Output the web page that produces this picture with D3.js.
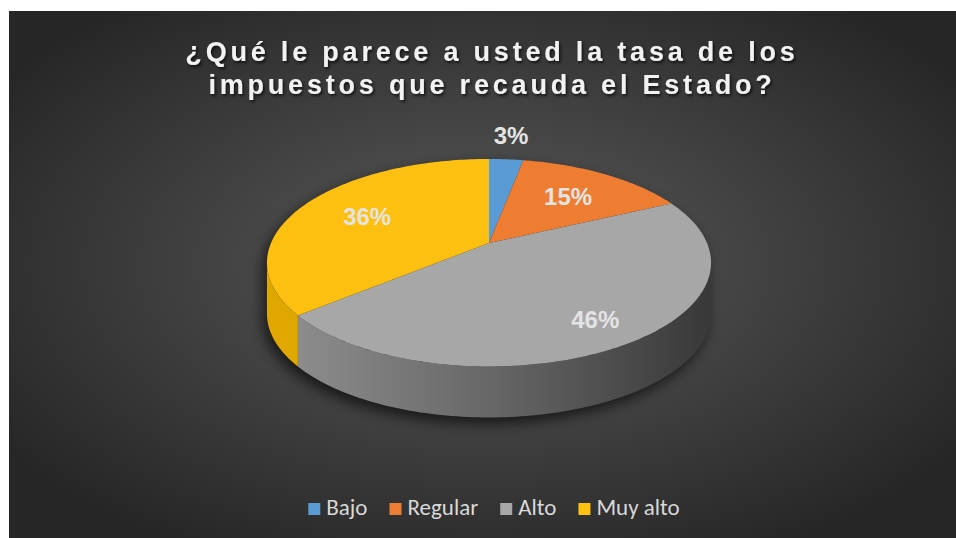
<!DOCTYPE html>
<html>
<head>
<meta charset="utf-8">
<script src="https://cdn.jsdelivr.net/npm/d3@7"></script>
<style>
	body { margin: 0; background: #ffffff; }
	.title { font-family: "Liberation Sans", Arial, sans-serif; font-weight: bold; font-size: 27px; fill: #f2f2f2; }
	.labels { font-family: "Liberation Sans", Arial, sans-serif; font-weight: bold; font-size: 24px; fill: #e4e4e4; }
	.legendText { font-family: Carlito, Calibri, Lato, sans-serif; font-size: 23px; fill: #d9d9d9; }
</style>
</head>
<body>
<script>
//Chart data
let categories = ["Bajo", "Regular", "Alto", "Muy alto"];
let values = [3, 15, 46, 36];
let titleLines = ["¿Qué le parece a usted la tasa de los", "impuestos que recauda el Estado?"];

//Execute script when window is loaded
window.onload = function(){
	//SVG dimension variables
	let w = 956, h = 538;

	//Colors for the top faces and the sides
	let topColors = ["#5b9bd5", "#ee7d31", "#a7a7a7", "#fdc010"];
	let sideColors = ["#3f78ad", "#c0601e", "url(#sideGray)", "#dfa700"];

	//Container block
	let container = d3.select("body")
		.append("svg")
		.attr("width", w)
		.attr("height", h)
		.attr("class", "container");

	let defs = container.append("defs");

	//Dark radial background
	let bg = defs.append("radialGradient")
		.attr("id", "bgGrad")
		.attr("cx", "50%").attr("cy", "48%").attr("r", "62%");
	bg.append("stop").attr("offset", "0%").attr("stop-color", "#5b5b5b");
	bg.append("stop").attr("offset", "100%").attr("stop-color", "#262626");

	//Gray side gradient, light on the left
	let sg = defs.append("linearGradient")
		.attr("id", "sideGray")
		.attr("gradientUnits", "userSpaceOnUse")
		.attr("x1", 267).attr("x2", 712).attr("y1", 0).attr("y2", 0);
	sg.append("stop").attr("offset", "0%").attr("stop-color", "#929292");
	sg.append("stop").attr("offset", "50%").attr("stop-color", "#676767");
	sg.append("stop").attr("offset", "100%").attr("stop-color", "#383838");

	//Title shadow and pie shadow filters
	let ts = defs.append("filter").attr("id", "textShadow")
		.attr("x", "-10%").attr("y", "-30%").attr("width", "120%").attr("height", "160%");
	ts.append("feDropShadow").attr("dx", 1.5).attr("dy", 2).attr("stdDeviation", 1.5)
		.attr("flood-color", "#000").attr("flood-opacity", 0.7);

	let ps = defs.append("filter").attr("id", "pieShadow")
		.attr("x", "-20%").attr("y", "-20%").attr("width", "140%").attr("height", "140%");
	ps.append("feGaussianBlur").attr("stdDeviation", 7);

	//Background rect (white margin on top and left)
	container.append("rect")
		.attr("x", 9).attr("y", 11)
		.attr("width", w - 9).attr("height", h - 11)
		.style("fill", "url(#bgGrad)");

	//Title
	let title = container.append("text")
		.attr("class", "title")
		.attr("text-anchor", "middle")
		.attr("filter", "url(#textShadow)")
		.style("letter-spacing", "3.8px");
	title.selectAll("tspan")
		.data(titleLines)
		.enter()
		.append("tspan")
		.attr("x", 492)
		.attr("y", function(d, i){ return 61 + i * 33; })
		.text(function(d){ return d; });

	//Pie geometry (projected tilted circle with a bit of perspective)
	let cx = 489, cy = 243, RX = 218, RY = 100, P = 0.19, depth = 51;

	function project(theta, r){
		let c = Math.cos(theta), s = Math.sin(theta);
		let den = 1 + P * r * c;
		return [cx + RX * r * s / den, cy - RY * r * c / den];
	}

	//Angles where the rim turns from back to front
	let thetaR = Math.PI / 2 + Math.asin(P);
	let thetaL = 3 * Math.PI / 2 - Math.asin(P);

	let line = d3.line();

	function arcPoints(a0, a1, dy){
		let n = Math.max(2, Math.ceil(Math.abs(a1 - a0) / 0.02));
		return d3.range(n + 1).map(function(k){
			let p = project(a0 + (a1 - a0) * k / n, 1);
			return [p[0], p[1] + dy];
		});
	}

	let pie = d3.pie().sort(null).value(function(d){ return d; });
	let arcs = pie(values);

	//Soft shadow under the pie
	let shadowPts = arcPoints(thetaL, thetaR + 2 * Math.PI, 0)
		.concat(arcPoints(thetaR, thetaL, depth));
	container.append("path")
		.attr("d", line(shadowPts) + "Z")
		.attr("transform", "translate(-4, 6)")
		.attr("filter", "url(#pieShadow)")
		.style("fill", "#000")
		.style("opacity", 0.65);

	//Side walls for the front half
	container.selectAll(".side")
		.data(arcs)
		.enter()
		.append("path")
		.attr("class", "side")
		.attr("d", function(d){
			let a0 = Math.max(d.startAngle, thetaR);
			let a1 = Math.min(d.endAngle, thetaL);
			if (a1 <= a0) return null;
			let pts = arcPoints(a0, a1, 0).concat(arcPoints(a1, a0, depth));
			return line(pts) + "Z";
		})
		.style("fill", function(d, i){ return sideColors[i]; });

	//Top faces
	container.selectAll(".slice")
		.data(arcs)
		.enter()
		.append("path")
		.attr("class", "slice")
		.attr("d", function(d){
			let pts = [project(0, 0)].concat(arcPoints(d.startAngle, d.endAngle, 0));
			return line(pts) + "Z";
		})
		.style("fill", function(d, i){ return topColors[i]; });

	//Data labels
	container.selectAll(".labels")
		.data(arcs)
		.enter()
		.append("text")
		.attr("class", "labels")
		.attr("text-anchor", "middle")
		.attr("dy", "0.35em")
		.attr("transform", function(d){
			let mid = (d.startAngle + d.endAngle) / 2;
			let share = (d.endAngle - d.startAngle) / (2 * Math.PI);
			let r = share < 0.05 ? 1.35 : 0.65 + 0.17 * Math.max(0, -Math.cos(mid));
			let p = project(mid, r);
			return "translate(" + p[0] + "," + p[1] + ")";
		})
		.text(function(d){ return d.data + "%"; });

	//Legend
	let legend = container.append("g").attr("class", "legend");
	let items = legend.selectAll(".legendItem")
		.data(categories)
		.enter()
		.append("g")
		.attr("class", "legendItem");
	items.append("rect")
		.attr("width", 12).attr("height", 12)
		.attr("y", -12)
		.style("fill", function(d, i){ return topColors[i]; });
	items.append("text")
		.attr("class", "legendText")
		.attr("x", 18)
		.attr("y", 0)
		.text(function(d){ return d; });

	//Place legend items one after another, then center the row
	let xPos = 0;
	items.each(function(){
		let g = d3.select(this);
		g.attr("transform", "translate(" + xPos + ",0)");
		xPos += 18 + g.select("text").node().getComputedTextLength() + 22;
	});
	let totalW = xPos - 22;
	legend.attr("transform", "translate(" + (494 - totalW / 2) + ",515)");
};
</script>
</body>
</html>
